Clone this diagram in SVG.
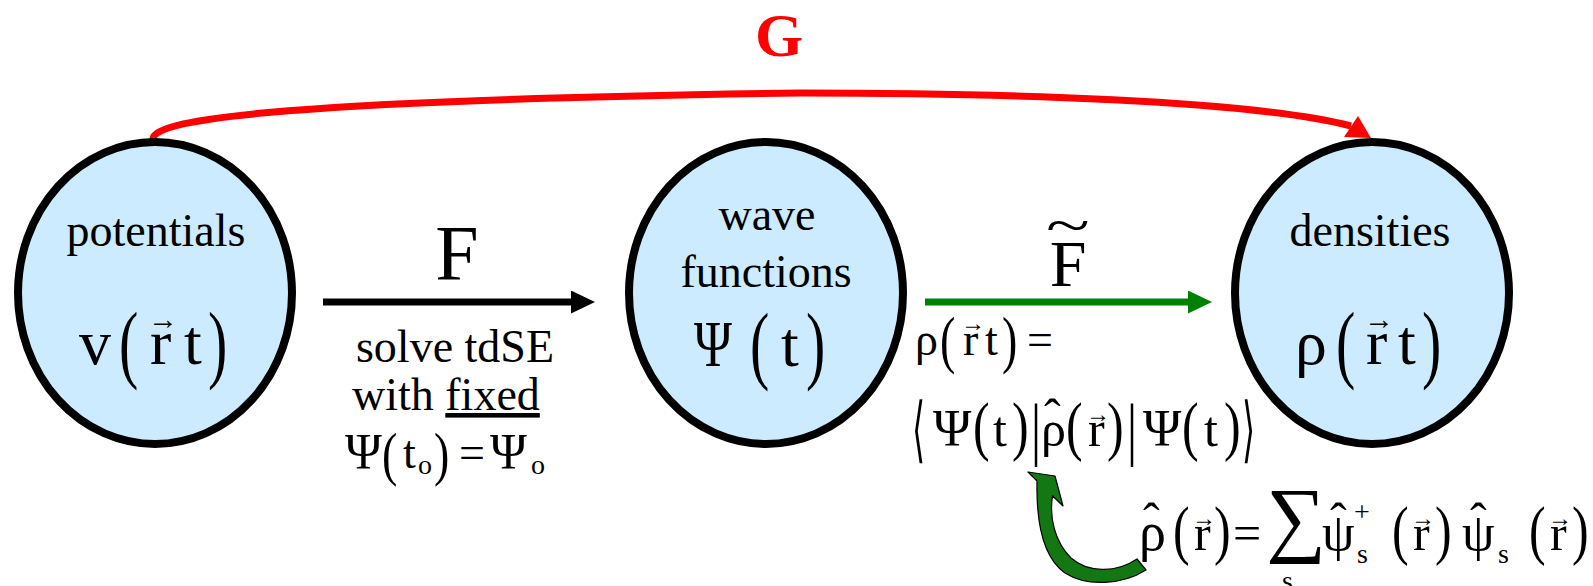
<svg xmlns="http://www.w3.org/2000/svg" width="1593" height="586" viewBox="0 0 1593 586">
<style>
.t{font-family:"Liberation Serif","Times New Roman",serif;fill:#000}
.lbl{font-size:46px;text-anchor:middle}
.m{font-size:64px}
.p{font-size:58px}
.e{font-size:50px}
.sub{font-size:28px}
.node{fill:#CCEBFF;stroke:#000;stroke-width:8}
.br{font-family:"DejaVu Sans",sans-serif;fill:#000}
</style>
<defs>
<marker id="ahB" markerUnits="userSpaceOnUse" markerWidth="24" markerHeight="23" refX="0" refY="11.5" orient="auto"><path d="M0,0 L24,11.5 L0,23 z" fill="#000"/></marker>
<marker id="ahG" markerUnits="userSpaceOnUse" markerWidth="24" markerHeight="23" refX="0" refY="11.5" orient="auto"><path d="M0,0 L24,11.5 L0,23 z" fill="#008000"/></marker>
</defs>

<g id="connectors">
<path d="M153,139 C152,118 300,100 800,93 C1000,93 1250,100 1351,126" fill="none" stroke="#FF0000" stroke-width="7"/>
<polygon points="1371,138 1358,116 1344,137" fill="#FF0000"/>
<line x1="323" y1="302" x2="571" y2="302" stroke="#000" stroke-width="7" marker-end="url(#ahB)"/>
<line x1="925" y1="302" x2="1188" y2="302" stroke="#008000" stroke-width="7" marker-end="url(#ahG)"/>
<path transform="translate(7,0)" d="M1021,472 L1048,476 L1056,506 L1045.5,495.8 C1042,518 1048,542 1064,558 C1080,572 1108,574 1130,559 L1139,570 C1115,585 1080,587 1058,573 C1038,559 1029,528 1030,481 Z" fill="#137813" stroke="#000" stroke-width="1.2" stroke-linejoin="round"/>
</g>

<g id="label-G"><text class="t" x="779" y="56" font-size="62" font-weight="bold" text-anchor="middle" style="fill:#FF0000">G</text></g>

<g id="node-potentials">
<ellipse class="node" cx="155" cy="293" rx="137" ry="151"/>
<text class="t lbl" x="156" y="246">potentials</text>
<text class="t m" x="79" y="364">v</text>
<text class="t p" transform="translate(119,372) scale(1,1.5)">(</text>
<text class="t m" x="150" y="364">r</text>
<text class="t" font-size="30" x="148" y="329">→</text>
<text class="t m" x="184" y="364">t</text>
<text class="t p" transform="translate(208,372) scale(1,1.5)">)</text>
</g>

<g id="node-wave">
<ellipse class="node" cx="766" cy="293" rx="137" ry="151"/>
<text class="t lbl" x="767" y="230">wave</text>
<text class="t lbl" x="766" y="287">functions</text>
<text class="t" font-size="66" transform="translate(694,366) scale(0.78,1)">Ψ</text>
<text class="t p" transform="translate(750,373) scale(1,1.5)">(</text>
<text class="t m" x="781" y="366">t</text>
<text class="t p" transform="translate(806,373) scale(1,1.5)">)</text>
</g>

<g id="node-densities">
<ellipse class="node" cx="1372" cy="293" rx="137" ry="151"/>
<text class="t lbl" x="1370" y="246">densities</text>
<text class="t m" x="1295" y="364">ρ</text>
<text class="t p" transform="translate(1336,372) scale(1,1.5)">(</text>
<text class="t m" x="1366" y="364">r</text>
<text class="t" font-size="30" x="1364" y="329">→</text>
<text class="t m" x="1398" y="364">t</text>
<text class="t p" transform="translate(1422,372) scale(1,1.5)">)</text>
</g>

<g id="label-F">
<text class="t" font-size="78" x="457" y="279" text-anchor="middle">F</text>
<text class="t lbl" x="455" y="362">solve tdSE</text>
<text class="t" font-size="46" x="352" y="410">with <tspan text-decoration="underline">fixed</tspan></text>
<text class="t e" x="345" y="468">Ψ</text>
<text class="t" font-size="46" transform="translate(382,474) scale(1,1.3)">(</text>
<text class="t" font-size="46" x="403" y="468">t</text>
<text class="t sub" x="418" y="474">o</text>
<text class="t" font-size="46" transform="translate(434,474) scale(1,1.3)">)</text>
<text class="t" font-size="46" x="459" y="468">=</text>
<text class="t e" x="490" y="468">Ψ</text>
<text class="t sub" x="531" y="474">o</text>
</g>

<g id="label-Ftilde">
<text class="t" font-size="66" x="1068" y="286" text-anchor="middle">F</text>
<text class="t" font-size="54" transform="translate(1046,244) scale(1.5,1)">~</text>
<text class="t" font-size="46" x="915" y="355">ρ</text>
<text class="t" font-size="46" transform="translate(940,361) scale(1,1.38)">(</text>
<text class="t" font-size="46" x="963" y="355">r</text>
<text class="t" font-size="24" x="961" y="331">→</text>
<text class="t" font-size="46" x="985" y="355">t</text>
<text class="t" font-size="46" transform="translate(1002,361) scale(1,1.38)">)</text>
<text class="t" font-size="46" x="1027" y="355">=</text>
<text class="br" font-size="48" transform="translate(912,454) scale(0.7,1.5)">⟨</text>
<text class="t" font-size="52" x="933" y="446">Ψ</text>
<text class="t e" transform="translate(973,448) scale(1,1.3)">(</text>
<text class="t e" x="993" y="446">t</text>
<text class="t e" transform="translate(1012,448) scale(1,1.3)">)</text>
<text class="t e" transform="translate(1031,452) scale(1,1.4)">|</text>
<text class="t e" x="1041" y="446">ρ</text>
<text class="t e" x="1044" y="434">ˆ</text>
<text class="t e" transform="translate(1066,448) scale(1,1.3)">(</text>
<text class="t e" x="1088" y="446">r</text>
<text class="t" font-size="24" x="1086" y="422">→</text>
<text class="t e" transform="translate(1107,448) scale(1,1.3)">)</text>
<text class="t e" transform="translate(1127,452) scale(1,1.4)">|</text>
<text class="t" font-size="52" x="1143" y="446">Ψ</text>
<text class="t e" transform="translate(1182,448) scale(1,1.3)">(</text>
<text class="t e" x="1204" y="446">t</text>
<text class="t e" transform="translate(1224,448) scale(1,1.3)">)</text>
<text class="br" font-size="48" transform="translate(1242,454) scale(0.7,1.5)">⟩</text>
</g>

<g id="label-rhohat">
<text class="t" font-size="54" x="1139" y="550">ρ</text>
<text class="t e" x="1143" y="538">ˆ</text>
<text class="t e" transform="translate(1173,552) scale(1,1.3)">(</text>
<text class="t e" x="1194" y="550">r</text>
<text class="t" font-size="24" x="1192" y="526">→</text>
<text class="t e" transform="translate(1214,552) scale(1,1.3)">)</text>
<text class="t e" x="1233" y="550">=</text>
<text class="t" font-size="84" x="1266" y="546">∑</text>
<text class="t sub" x="1282" y="590">s</text>
<text class="t" font-size="52" x="1322" y="550">ψ</text>
<text class="t e" x="1330" y="538">ˆ</text>
<text class="t sub" x="1354" y="521">+</text>
<text class="t sub" x="1357" y="563">s</text>
<text class="t e" transform="translate(1392,552) scale(1,1.3)">(</text>
<text class="t e" x="1413" y="550">r</text>
<text class="t" font-size="24" x="1411" y="526">→</text>
<text class="t e" transform="translate(1435,552) scale(1,1.3)">)</text>
<text class="t" font-size="52" x="1462" y="550">ψ</text>
<text class="t e" x="1470" y="538">ˆ</text>
<text class="t sub" x="1498" y="563">s</text>
<text class="t e" transform="translate(1529,552) scale(1,1.3)">(</text>
<text class="t e" x="1550" y="550">r</text>
<text class="t" font-size="24" x="1548" y="526">→</text>
<text class="t e" transform="translate(1572,552) scale(1,1.3)">)</text>
</g>
</svg>
